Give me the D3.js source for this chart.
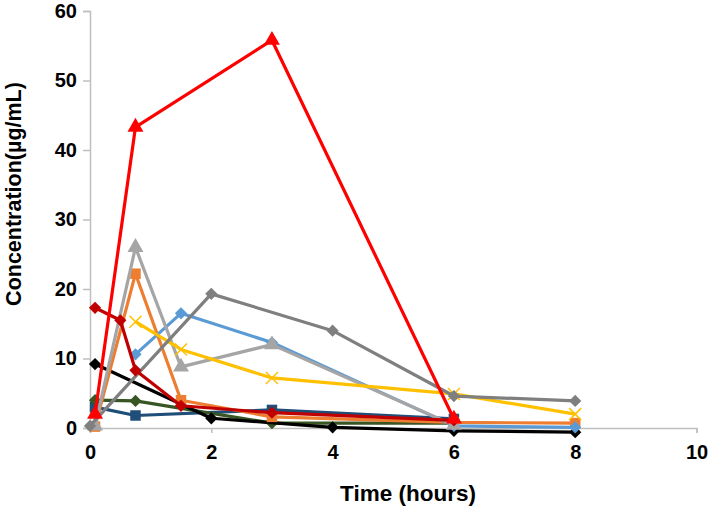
<!DOCTYPE html>
<html lang="en">
<head>
<meta charset="utf-8">
<title>Concentration</title>
<style>
  body { margin: 0; background: #fff; }
  text { font-family: "Liberation Sans", Arial, sans-serif; font-weight: bold; fill: #000; }
</style>
</head>
<body>
<div id="chart"></div>
<script src="https://cdn.jsdelivr.net/npm/d3@7"></script>
<script>
// tick labels
var xTicks = [0, 2, 4, 6, 8, 10];
var yTicks = [0, 10, 20, 30, 40, 50, 60];

// series values, [time, concentration]
var darkBlue  = [[0.083, 3.0], [0.75, 1.8], [3, 2.6], [6, 1.3]];
var green     = [[0.083, 4.0], [0.75, 3.9], [3, 0.7], [6, 0.7]];
var black     = [[0.083, 9.2], [2, 1.4], [4, 0.1], [6, -0.4], [8, -0.6]];
var orange    = [[0.083, 0.2], [0.75, 22.2], [1.5, 4.0], [3, 1.6], [6, 0.8], [8, 0.7]];
var lightBlue = [[0.75, 10.6], [1.5, 16.5], [3, 12.3], [6, 0.3], [8, 0.1]];
var lightGray = [[0.083, 0.3], [0.75, 26.0], [1.5, 8.8], [3, 12.0], [6, 0.4]];
var gold      = [[0.75, 15.3], [1.5, 11.3], [3, 7.2], [6, 4.9], [8, 2.0]];
var darkGray  = [[0, 0.3], [2, 19.3], [4, 14.0], [6, 4.6], [8, 3.9]];
var darkRed   = [[0.083, 17.3], [0.5, 15.5], [0.75, 8.3], [1.5, 3.2], [3, 2.2], [6, 1.1]];
var red       = [[0.083, 2.0], [0.75, 43.3], [3, 55.8], [6, 1.3]];

var series = [
  {data: darkBlue,  color: "#1f4e79", symbol: "square"},
  {data: green,     color: "#375623", symbol: "diamond"},
  {data: black,     color: "#000000", symbol: "diamond"},
  {data: orange,    color: "#ed7d31", symbol: "square"},
  {data: lightBlue, color: "#5b9bd5", symbol: "diamond"},
  {data: lightGray, color: "#a5a5a5", symbol: "triangle"},
  {data: gold,      color: "#ffc000", symbol: "x"},
  {data: darkGray,  color: "#7f7f7f", symbol: "diamond"},
  {data: darkRed,   color: "#c00000", symbol: "diamond"},
  {data: red,       color: "#ff0000", symbol: "triangle"}
];

var width = 709, height = 508;
var margin = {top: 11, right: 12, bottom: 80, left: 90};

var x = d3.scaleLinear().domain([0, 10]).range([margin.left, 696.5]);
var y = d3.scaleLinear().domain([0, 60]).range([428, margin.top]);

var svg = d3.select("#chart").append("svg")
    .attr("width", width)
    .attr("height", height);

// axes
var xAxis = svg.append("g")
    .attr("transform", "translate(0," + y(0) + ")")
    .call(d3.axisBottom(x).tickValues(xTicks).tickSize(5).tickPadding(12));
var yAxis = svg.append("g")
    .attr("transform", "translate(" + x(0) + ",0)")
    .call(d3.axisLeft(y).tickValues(yTicks).tickSize(7).tickPadding(6));

[xAxis, yAxis].forEach(function(g) {
  g.select(".domain").attr("stroke", "#bfbfbf").attr("stroke-width", 1.5);
  g.selectAll(".tick line").attr("stroke", "#bfbfbf").attr("stroke-width", 1.5);
  g.selectAll(".tick text")
    .style("font-family", "'Liberation Sans', Arial, sans-serif")
    .style("font-weight", "bold")
    .style("font-size", "20px")
    .attr("fill", "#000");
});

// axis titles
svg.append("text")
    .attr("x", 408)
    .attr("y", 501)
    .attr("text-anchor", "middle")
    .style("font-size", "22.5px")
    .text("Time (hours)");

svg.append("text")
    .attr("transform", "translate(21,194) rotate(-90)")
    .attr("text-anchor", "middle")
    .style("font-size", "21.5px")
    .text("Concentration(\u00b5g/mL)");

// lines and markers
var line = d3.line()
    .x(function(d) { return x(d[0]); })
    .y(function(d) { return y(d[1]); });

var shapes = {
  square:   {type: d3.symbolSquare,   size: 110, rot: 0},
  diamond:  {type: d3.symbolSquare,   size: 75,  rot: 45},
  triangle: {type: d3.symbolTriangle, size: 110, rot: 0}
};

series.forEach(function(s) {
  var g = svg.append("g");
  g.append("path")
      .datum(s.data)
      .attr("fill", "none")
      .attr("stroke", s.color)
      .attr("stroke-width", 3.2)
      .attr("stroke-linejoin", "round")
      .attr("d", line);

  var marks = g.selectAll("path.mk")
      .data(s.data)
    .enter().append("path")
      .attr("class", "mk");

  if (s.symbol === "x") {
    marks.attr("transform", function(d) { return "translate(" + x(d[0]) + "," + y(d[1]) + ")"; })
        .attr("d", "M-6,-6L6,6M-6,6L6,-6")
        .attr("stroke", s.color)
        .attr("stroke-width", 1.5)
        .attr("fill", "none");
  } else {
    var sh = shapes[s.symbol];
    marks.attr("transform", function(d) {
          return "translate(" + x(d[0]) + "," + y(d[1]) + ") rotate(" + sh.rot + ")";
        })
        .attr("d", d3.symbol().type(sh.type).size(sh.size))
        .attr("fill", s.color);
  }
});
</script>
</body>
</html>
